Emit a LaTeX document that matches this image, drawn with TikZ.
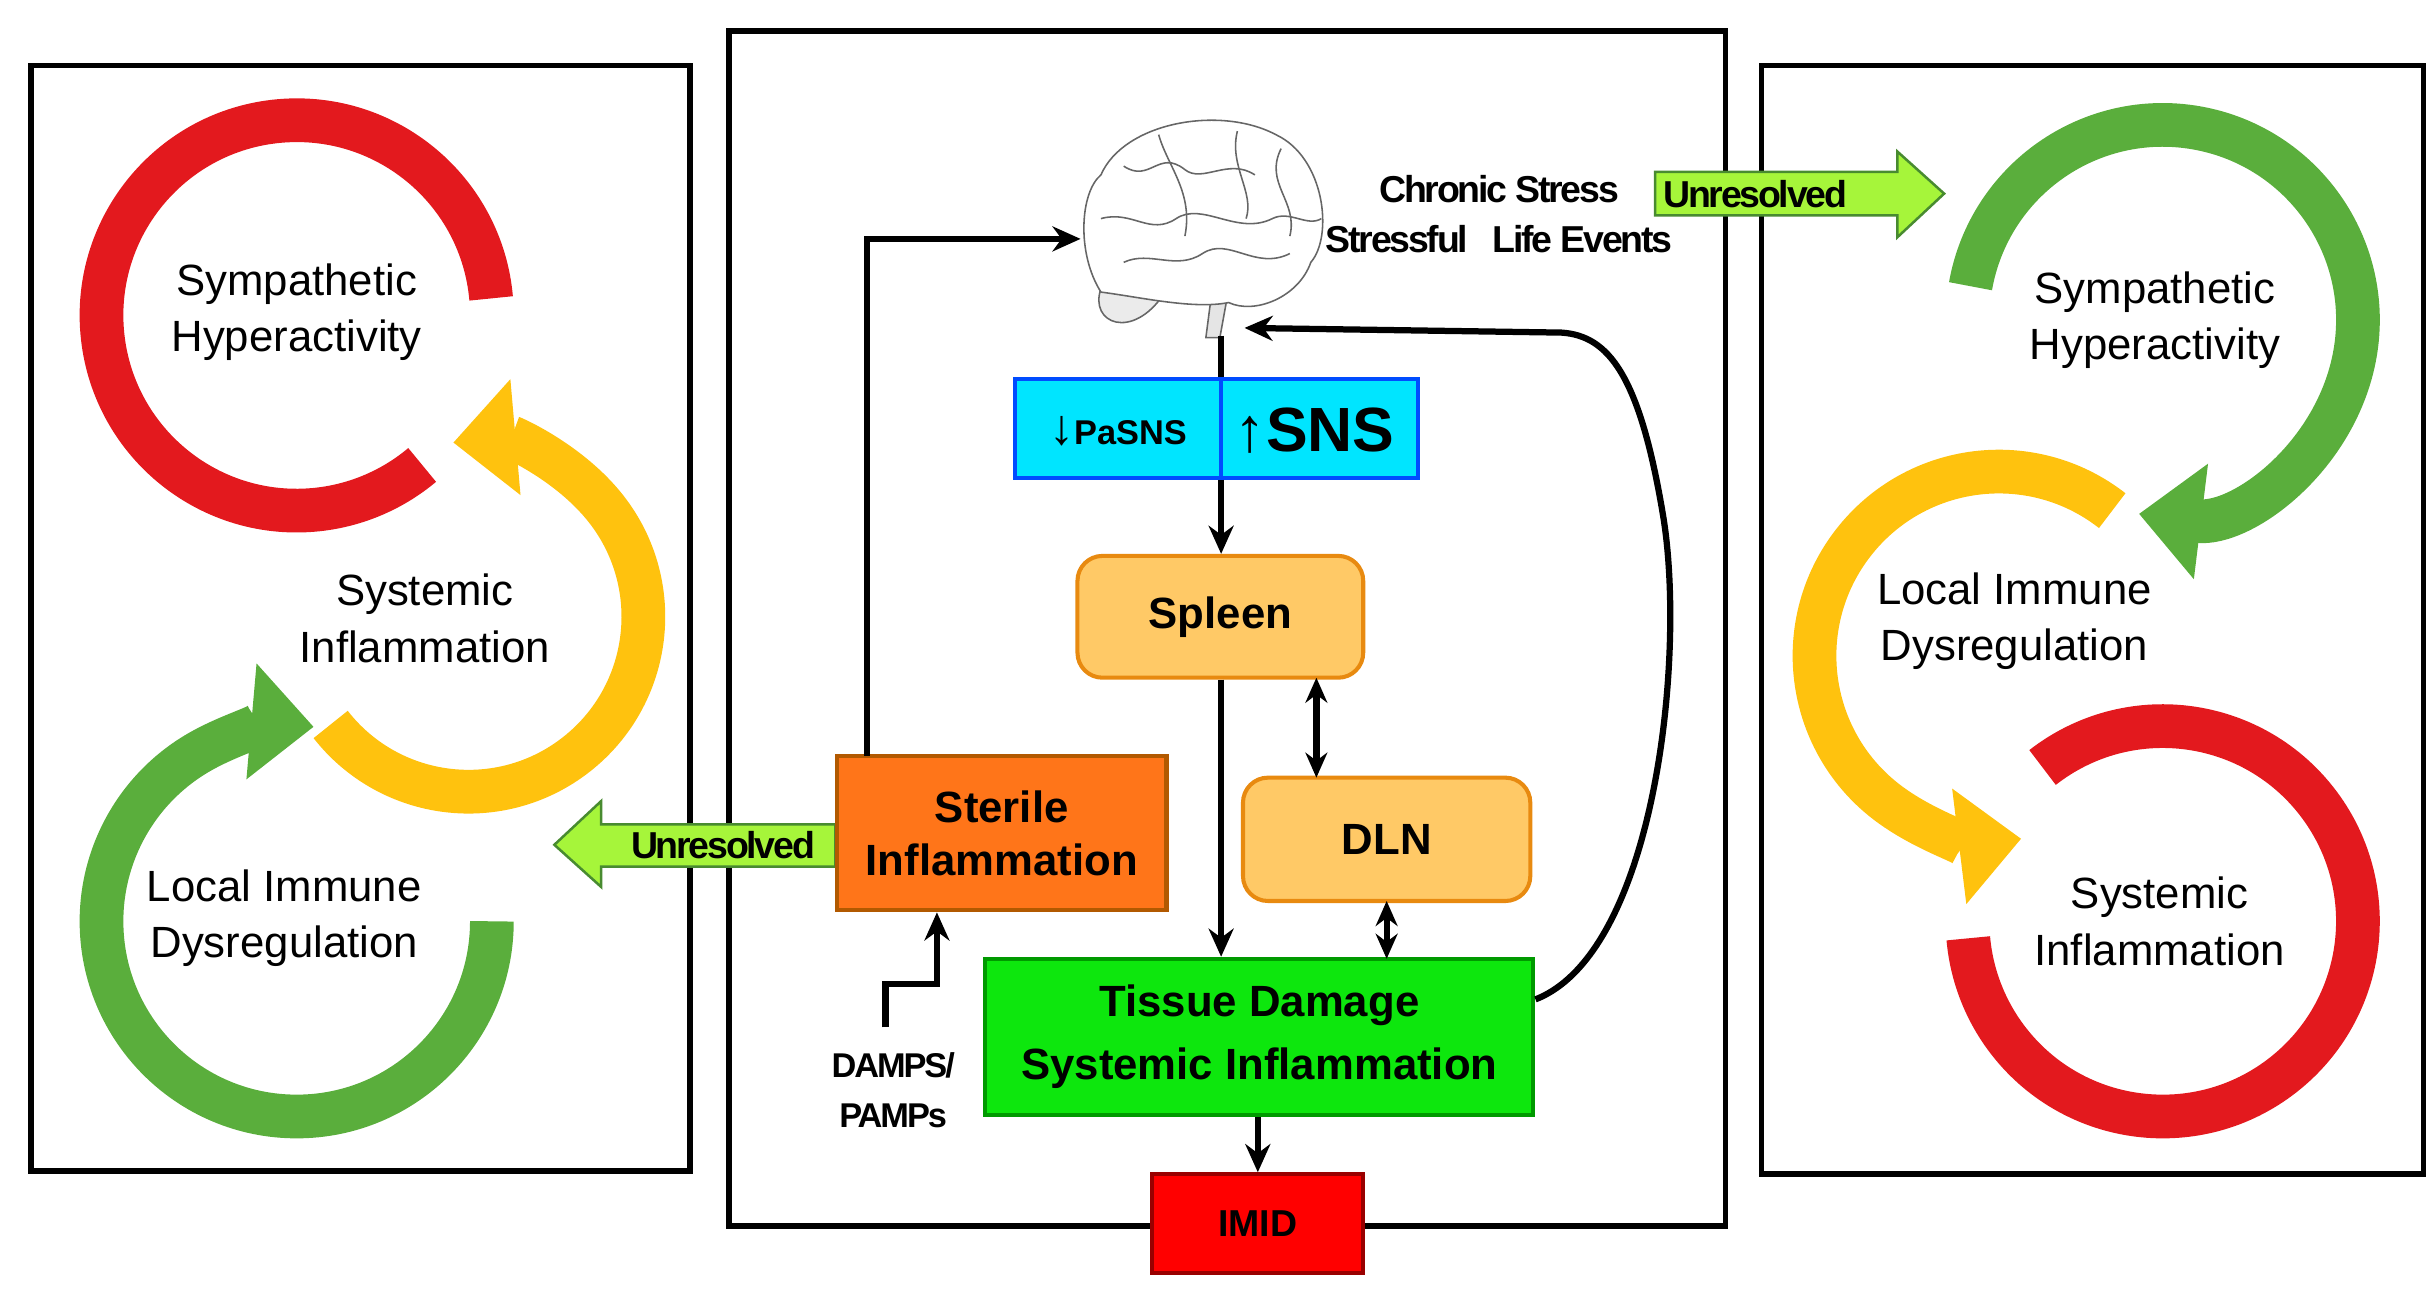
\documentclass[tikz,border=0pt]{standalone}
\usepackage{fontspec}
\setmainfont{Liberation Sans}
\usetikzlibrary{arrows.meta,positioning}
\definecolor{cred}{HTML}{E3191E}
\definecolor{cyel}{HTML}{FFC20E}
\definecolor{cgrn}{HTML}{5AAE3C}
\definecolor{lime}{HTML}{A6F53A}
\definecolor{spl}{HTML}{FFC966}
\definecolor{splb}{HTML}{E88A10}
\definecolor{cyanb}{HTML}{00E5FF}
\begin{document}
\begin{tikzpicture}[x=0.5pt,y=-0.5pt,
  panel/.style={draw=black,line width=1.8pt},
  ring/.style={line width=14pt},
  bigarr/.style={line width=14pt,-{Triangle[length=20pt,width=36pt]}},
  lab/.style={font=\fontsize{14}{18}\selectfont,align=center},
  bx/.style={draw,line width=1.3pt,font=\bfseries\fontsize{14}{17}\selectfont,align=center,inner sep=0pt},
  con/.style={line width=2pt,-{Stealth[length=9pt,width=8pt]}},
  dcon/.style={line width=2pt,{Stealth[length=8pt,width=7pt]}-{Stealth[length=8pt,width=7pt]}},
  unres/.style={draw=cgrn!80!black,fill=lime,line width=0.8pt}]
\useasboundingbox (0,0) rectangle (1560,828);
% panels
\node[panel,minimum width=211pt,minimum height=354pt,inner sep=0] (lp) at (231,396) {};
\node[panel,minimum width=319pt,minimum height=382.5pt,inner sep=0] (cp) at (786,402.5) {};
\node[panel,minimum width=212pt,minimum height=355pt,inner sep=0] (rp) at (1340,397) {};
% left rings
\draw[ring,cred] (190,202) ++(-5:125) arc[start angle=-5,end angle=-310,radius=125];
\draw[bigarr,cyel] (300,395) ++(-218:112) arc[start angle=-218,end angle=-455,radius=112];
\draw[bigarr,cgrn] (190,590) ++(0:125) arc[start angle=0,end angle=275,radius=125];
\node[lab] (l1) at (190,200) {Sympathetic\\Hyperactivity};
\node[lab] (l2) at (272,396) {Systemic\\Inflammation};
\node[lab] (l3) at (182,588) {Local Immune\\Dysregulation};
% right rings
\draw[bigarr,cgrn] (1385,205) ++(-170:125) arc[start angle=-170,end angle=97,radius=125];
\draw[bigarr,cyel] (1280,420) ++(-52:118) arc[start angle=-52,end angle=-277,radius=118];
\draw[ring,cred] (1385,590) ++(-128:125) arc[start angle=-128,end angle=175,radius=125];
\node[lab] (r1) at (1380,205) {Sympathetic\\Hyperactivity};
\node[lab] (r2) at (1290,398) {Local Immune\\Dysregulation};
\node[lab] (r3) at (1383,590) {Systemic\\Inflammation};
% brain
\begin{scope}[draw=black!60,line width=0.5pt,shift={(770,140)},scale=1.12,shift={(-770,-140)}]
\draw[fill=black!8] (748,183) .. controls (730,210) and (705,200) .. (712,180) .. controls (725,170) and (745,172) .. cycle;
\draw[fill=black!10] (775,185) -- (772,208) -- (780,208) -- (784,186);
\draw[fill=white] (712,182) .. controls (698,160) and (700,125) .. (712,115)
  .. controls (725,85) and (780,75) .. (812,92)
  .. controls (840,105) and (845,150) .. (832,165)
  .. controls (825,185) and (800,195) .. (785,188)
  .. controls (765,192) and (735,185) .. cycle;
\draw (725,110) .. controls (740,120) and (745,100) .. (760,112) .. controls (770,120) and (785,105) .. (800,115);
\draw (712,140) .. controls (730,135) and (740,150) .. (755,140) .. controls (770,130) and (790,150) .. (810,140) .. controls (820,135) and (830,145) .. (838,140);
\draw (725,165) .. controls (740,158) and (755,170) .. (770,160) .. controls (785,150) and (800,170) .. (820,160);
\draw (745,92) .. controls (750,110) and (765,125) .. (760,150);
\draw (790,90) .. controls (785,110) and (800,125) .. (795,140);
\draw (815,100) .. controls (805,120) and (825,130) .. (820,150);
\end{scope}
\coordinate (stem) at (782,215);
\node[font=\fontsize{12}{14}\selectfont\bfseries,align=center] (cs) at (960,137) {\addfontfeature{LetterSpace=-6}Chronic Stress\\[2pt]\addfontfeature{LetterSpace=-6}Stressful~~~Life Events};
% unresolved arrows
\draw[unres] (1060,110) -- (1215,110) -- (1215,97) -- (1245,124) -- (1215,152) -- (1215,138) -- (1060,138) -- cycle;
\node[font=\bfseries\fontsize{12}{14}\selectfont] (u1) at (1124,124) {\addfontfeature{LetterSpace=-6}Unresolved};
\draw[unres] (535,528) -- (385,528) -- (385,513) -- (355,541) -- (385,568) -- (385,555) -- (535,555) -- cycle;
\node[font=\bfseries\fontsize{12}{14}\selectfont] (u2) at (463,541) {\addfontfeature{LetterSpace=-6}Unresolved};
% boxes
\node[bx,draw=blue!70!cyan,fill=cyanb,minimum width=129pt,minimum height=31.5pt] (sns) at (779,274.5) {};
\draw[blue!70!cyan,line width=1.3pt] (782,243) -- (782,306);
\node[font=\bfseries\fontsize{11}{13}\selectfont] (pa) at (716,276) {{\fontsize{16}{16}\selectfont ↓}PaSNS};
\node[font=\bfseries\fontsize{20}{22}\selectfont] (sn) at (842,276) {↑SNS};
\node[bx,draw=splb,fill=spl,rounded corners=8pt,minimum width=91.5pt,minimum height=39pt] (spleen) at (781.5,395) {Spleen};
\node[bx,draw=splb,fill=spl,rounded corners=8pt,minimum width=92pt,minimum height=39.5pt] (dln) at (888,537.5) {DLN};
\node[bx,draw=orange!70!black,fill=orange!80!red!90,minimum width=105.5pt,minimum height=49.5pt] (ster) at (641.5,533.5) {Sterile\\Inflammation};
\node[bx,draw=green!60!black,fill=green!90!black!95,minimum width=175.5pt,minimum height=50pt,font=\bfseries\fontsize{14}{20}\selectfont] (tis) at (806.5,664) {Tissue Damage\\Systemic Inflammation};
\node[bx,draw=red!60!black,fill=red,minimum width=67.5pt,minimum height=31.5pt,font=\fontsize{12}{14}\selectfont\bfseries] (imid) at (805.5,783.5) {IMID};
\node[font=\bfseries\fontsize{11}{16}\selectfont,align=center] (damps) at (572,698) {\addfontfeature{LetterSpace=-6}DAMPS/\\\addfontfeature{LetterSpace=-6}PAMPs};
% connectors
\draw[line width=2pt] (stem) -- (sns.north -| stem);
\draw[con] (sns.south -| stem) -- (spleen.north -| stem);
\draw[con] (spleen.south -| stem) -- (tis.north -| stem);
\draw[dcon] (843,434) -- (843,498);
\draw[dcon] (888,577) -- (888,614);
\draw[con] (tis.south -| imid) -- (imid.north);
\coordinate (bl) at (692,153);
\draw[con] (555,484) -- (555,153) -- (bl);
\coordinate (br) at (797,210);
\draw[con] (tis.east |- 0,640) .. controls (1060,610) and (1080,420) .. (1065,330) .. controls (1050,240) and (1030,215) .. (1000,213) -- (br);
\draw[con] (567,658) -- (567,630) -- (600,630) -- (ster.south -| 600,0);
\end{tikzpicture}
\end{document}
